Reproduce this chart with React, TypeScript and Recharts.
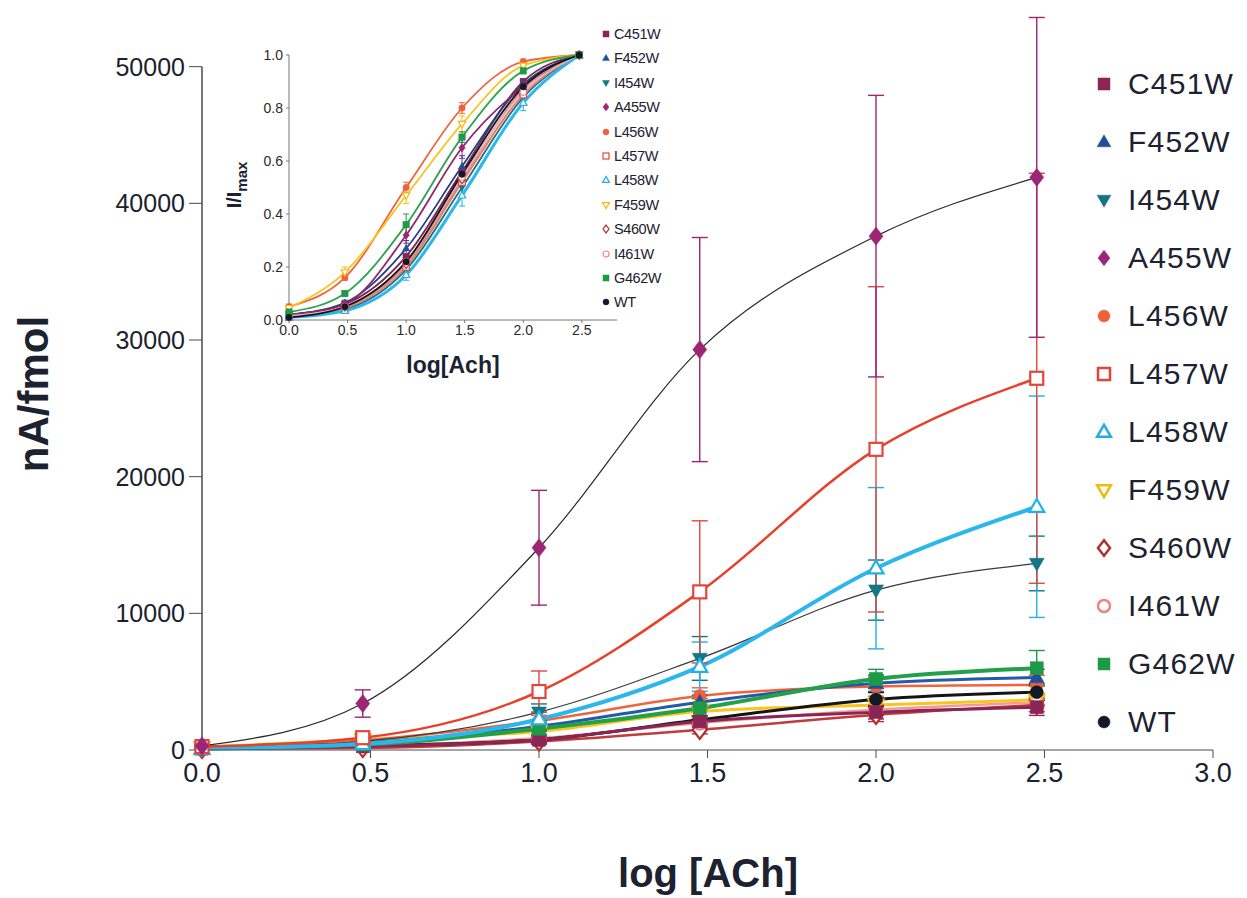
import React from "react";
import { LineChart, Line, XAxis, YAxis, ErrorBar, ReferenceLine, Label } from "recharts";

// log [ACh] (1, 3, 10, 30, 100, 300 uM)
const LOG_ACH = [0, 0.477, 1, 1.477, 2, 2.477];
const MAIN_X_TICKS = [0, 0.5, 1, 1.5, 2, 2.5, 3];
const MAIN_Y_TICKS = [0, 10000, 20000, 30000, 40000, 50000];
const INSET_X_TICKS = [0, 0.5, 1, 1.5, 2, 2.5];
const INSET_Y_TICKS = [0, 0.2, 0.4, 0.6, 0.8, 1.0];

// main panel, nA/fmol
const C451W_NA = [100, 270, 750, 2090, 2770, 3130];
const F452W_NA = [150, 510, 1730, 3500, 4880, 5300];
const I454W_NA = [120, 630, 2770, 6700, 11700, 13650];
const A455W_NA = [300, 3400, 14800, 29300, 37600, 41900];
const L456W_NA = [200, 700, 2140, 3950, 4640, 4760];
const L457W_NA = [250, 900, 4280, 11570, 22000, 27200];
const L458W_NA = [100, 450, 2250, 6100, 13300, 17800];
const F459W_NA = [200, 750, 1360, 2820, 3300, 3670];
const S460W_NA = [80, 150, 630, 1480, 2580, 3300];
const I461W_NA = [100, 300, 870, 1970, 2940, 3500];
const G462W_NA = [150, 400, 1560, 3060, 5200, 5980];
const WT_NA = [100, 300, 750, 2210, 3700, 4230];

// SEM, main panel
const C451W_SE = [50, 150, 300, 400, 500, 600];
const F452W_SE = [50, 150, 300, 500, 600, 600];
const I454W_SE = [50, 200, 600, 1600, 2200, 2000];
const A455W_SE = [150, 1000, 4200, 8200, 10300, 11700];
const L456W_SE = [50, 150, 400, 600, 700, 700];
const L457W_SE = [100, 300, 1500, 5200, 11900, 15000];
const L458W_SE = [50, 200, 500, 1800, 5900, 8100];
const F459W_SE = [50, 150, 300, 400, 500, 500];
const S460W_SE = [30, 100, 200, 300, 500, 500];
const I461W_SE = [50, 100, 200, 300, 400, 400];
const G462W_SE = [50, 150, 400, 700, 700, 1300];
const WT_SE = [50, 100, 200, 300, 500, 600];

// inset, I/Imax
const C451W_N = [0.02, 0.06, 0.24, 0.56, 0.9, 1.0];
const F452W_N = [0.02, 0.065, 0.27, 0.58, 0.89, 1.0];
const I454W_N = [0.01, 0.04, 0.19, 0.5, 0.84, 1.0];
const A455W_N = [0.02, 0.06, 0.32, 0.65, 0.88, 1.0];
const L456W_N = [0.05, 0.16, 0.5, 0.8, 0.975, 1.0];
const L457W_N = [0.01, 0.045, 0.2, 0.52, 0.85, 1.0];
const L458W_N = [0.01, 0.035, 0.17, 0.47, 0.82, 1.0];
const F459W_N = [0.045, 0.18, 0.47, 0.74, 0.96, 1.0];
const S460W_N = [0.015, 0.05, 0.21, 0.53, 0.87, 1.0];
const I461W_N = [0.015, 0.05, 0.22, 0.54, 0.86, 1.0];
const G462W_N = [0.03, 0.1, 0.36, 0.69, 0.94, 1.0];
const WT_N = [0.01, 0.05, 0.22, 0.55, 0.88, 1.0];

const L456W_NE = [0.01, 0.01, 0.02, 0.02, 0.01, 0];
const F459W_NE = [0.01, 0.02, 0.03, 0.03, 0.01, 0];
const G462W_NE = [0.01, 0.01, 0.04, 0.02, 0.01, 0];
const A455W_NE = [0, 0.01, 0.03, 0.04, 0.02, 0];
const F452W_NE = [0, 0.01, 0.03, 0.04, 0.02, 0];
const L458W_NE = [0, 0.01, 0.02, 0.04, 0.03, 0];
const I454W_NE = [0, 0.01, 0.02, 0.03, 0.03, 0];

type Shape = "square" | "triangle" | "triangleDown" | "diamond" | "circle";

interface Series {
  key: string;
  shape: Shape;
  open: boolean;
  color: string;
  line: string;
  lineWidth: number;
  insetLine: string;
  na: number[];
  se: number[];
  norm: number[];
  normErr?: number[];
}

const SERIES: Series[] = [
  { key: "C451W", shape: "square", open: false, color: "#8c2556", line: "#8c2556", lineWidth: 3, insetLine: "#7a2350", na: C451W_NA, se: C451W_SE, norm: C451W_N },
  { key: "F452W", shape: "triangle", open: false, color: "#21509a", line: "#2659a8", lineWidth: 3, insetLine: "#223f86", na: F452W_NA, se: F452W_SE, norm: F452W_N, normErr: F452W_NE },
  { key: "I454W", shape: "triangleDown", open: false, color: "#127684", line: "#3a3a3a", lineWidth: 1.2, insetLine: "#1f6f80", na: I454W_NA, se: I454W_SE, norm: I454W_N, normErr: I454W_NE },
  { key: "A455W", shape: "diamond", open: false, color: "#9c2575", line: "#2a2a2a", lineWidth: 1.2, insetLine: "#8e2a6e", na: A455W_NA, se: A455W_SE, norm: A455W_N, normErr: A455W_NE },
  { key: "L456W", shape: "circle", open: false, color: "#f0603c", line: "#f0643c", lineWidth: 2.5, insetLine: "#f0643c", na: L456W_NA, se: L456W_SE, norm: L456W_N, normErr: L456W_NE },
  { key: "L457W", shape: "square", open: true, color: "#e2463a", line: "#e8402a", lineWidth: 2.5, insetLine: "#e77a66", na: L457W_NA, se: L457W_SE, norm: L457W_N },
  { key: "L458W", shape: "triangle", open: true, color: "#22b0e6", line: "#2bb7ec", lineWidth: 4, insetLine: "#2bb7ec", na: L458W_NA, se: L458W_SE, norm: L458W_N, normErr: L458W_NE },
  { key: "F459W", shape: "triangleDown", open: true, color: "#f6b80e", line: "#f7c51c", lineWidth: 3, insetLine: "#f7c51c", na: F459W_NA, se: F459W_SE, norm: F459W_N, normErr: F459W_NE },
  { key: "S460W", shape: "diamond", open: true, color: "#b2302f", line: "#c03a3e", lineWidth: 2.5, insetLine: "#d88a90", na: S460W_NA, se: S460W_SE, norm: S460W_N },
  { key: "I461W", shape: "circle", open: true, color: "#ef8580", line: "#f29a98", lineWidth: 2.5, insetLine: "#e9b2bc", na: I461W_NA, se: I461W_SE, norm: I461W_N },
  { key: "G462W", shape: "square", open: false, color: "#1d9a48", line: "#22a04a", lineWidth: 4, insetLine: "#2ea44f", na: G462W_NA, se: G462W_SE, norm: G462W_N, normErr: G462W_NE },
  { key: "WT", shape: "circle", open: false, color: "#111827", line: "#141414", lineWidth: 3, insetLine: "#141414", na: WT_NA, se: WT_SE, norm: WT_N },
];

// drawing order on the main panel (back to front)
const MAIN_ORDER = ["S460W", "I461W", "F459W", "L456W", "WT", "C451W", "F452W", "G462W", "I454W", "L458W", "L457W", "A455W"];

const mainRows = LOG_ACH.map((x, i) => {
  const row: Record<string, number> = { x };
  SERIES.forEach((s) => {
    row[s.key] = s.na[i];
    row[s.key + "_se"] = s.se[i];
  });
  return row;
});

const insetRows = LOG_ACH.map((x, i) => {
  const row: Record<string, number> = { x };
  SERIES.forEach((s) => {
    row[s.key] = s.norm[i];
    if (s.normErr) row[s.key + "_se"] = s.normErr[i];
  });
  return row;
});

const FONT = '"Liberation Sans", Arial, Helvetica, sans-serif';

function Marker({ cx, cy, shape, r, color, open, sw }: { cx: number; cy: number; shape: Shape; r: number; color: string; open: boolean; sw: number }) {
  const fill = open ? "#ffffff" : color;
  const common = { fill, stroke: color, strokeWidth: open ? sw : 0.5 };
  if (shape === "square") return <rect x={cx - r} y={cy - r} width={2 * r} height={2 * r} {...common} />;
  if (shape === "circle") return <circle cx={cx} cy={cy} r={r} {...common} />;
  if (shape === "triangle")
    return <polygon points={`${cx},${cy - r * 1.2} ${cx + r * 1.15},${cy + r * 0.8} ${cx - r * 1.15},${cy + r * 0.8}`} {...common} />;
  if (shape === "triangleDown")
    return <polygon points={`${cx},${cy + r * 1.2} ${cx + r * 1.15},${cy - r * 0.8} ${cx - r * 1.15},${cy - r * 0.8}`} {...common} />;
  return <polygon points={`${cx},${cy - r * 1.3} ${cx + r},${cy} ${cx},${cy + r * 1.3} ${cx - r},${cy}`} {...common} />;
}

function Legend({ left, top, step, size, gap, fontSize, letterSpacing }: { left: number; top: number; step: number; size: number; gap: number; fontSize: number; letterSpacing: number }) {
  return (
    <div style={{ position: "absolute", left, top }}>
      {SERIES.map((s, i) => (
        <div key={s.key} style={{ position: "absolute", left: 0, top: i * step - step / 2, height: step, display: "flex", alignItems: "center", whiteSpace: "nowrap" }}>
          <svg width={size * 2 + 4} height={size * 3} style={{ marginRight: gap }}>
            <Marker cx={size + 2} cy={size * 1.5} shape={s.shape} r={size * 0.75} color={s.color} open={s.open} sw={size > 6 ? 2.5 : 1.2} />
          </svg>
          <span style={{ fontFamily: FONT, fontSize, letterSpacing, color: "#1c2230" }}>{s.key}</span>
        </div>
      ))}
    </div>
  );
}

export default function App() {
  const ordered = MAIN_ORDER.map((k) => SERIES.find((s) => s.key === k)!);
  return (
    <div style={{ position: "absolute", left: 0, top: 0, width: 1247, height: 898, background: "#ffffff", overflow: "hidden" }}>
      <LineChart width={1247} height={898} data={mainRows} margin={{ top: 12, right: 34, bottom: 0, left: 0 }}>
        <XAxis
          dataKey="x"
          type="number"
          domain={[0, 3]}
          ticks={MAIN_X_TICKS}
          tickFormatter={(v: number) => v.toFixed(1)}
          height={148}
          stroke="#4a4a4a"
          tickSize={8}
          tickMargin={5}
          tick={{ fontSize: 27, fill: "#1c2230", fontFamily: FONT }}
        >
          <Label
            content={() => (
              <text x={708} y={887} textAnchor="middle" fontFamily={FONT} fontWeight="bold" fontSize={40} fill="#1c2230">
                log [ACh]
              </text>
            )}
          />
        </XAxis>
        <YAxis
          type="number"
          domain={[0, 54000]}
          ticks={MAIN_Y_TICKS}
          width={202}
          axisLine={false}
          stroke="#4a4a4a"
          tickSize={13}
          tickMargin={4}
          tick={{ fontSize: 25, fill: "#1c2230", fontFamily: FONT }}
        >
          <Label
            content={() => (
              <text x={48} y={394} transform="rotate(-90 48 394)" textAnchor="middle" fontFamily={FONT} fontWeight="bold" fontSize={42} fill="#1c2230">
                nA/fmol
              </text>
            )}
          />
        </YAxis>
        <ReferenceLine segment={[{ x: 0, y: 0 }, { x: 0, y: 50000 }]} stroke="#4a4a4a" strokeWidth={1.5} />
        {ordered.map((s) => (
          <Line
            key={s.key}
            dataKey={s.key}
            type="monotone"
            stroke={s.line}
            strokeWidth={s.lineWidth}
            isAnimationActive={false}
            activeDot={false}
            dot={(p: any) => (
              <Marker key={`${s.key}-${p.index}`} cx={p.cx} cy={p.cy} shape={s.shape} r={s.shape === "diamond" ? 7 : 6.5} color={s.color} open={s.open} sw={2.2} />
            )}
          >
            <ErrorBar dataKey={s.key + "_se"} direction="y" width={8} stroke={s.color} strokeWidth={1.4} />
          </Line>
        ))}
      </LineChart>

      <div style={{ position: "absolute", left: 220, top: 20 }}>
        <LineChart width={400} height={370} data={insetRows} margin={{ top: 35, right: 3, bottom: 0, left: 0 }}>
          <XAxis
            dataKey="x"
            type="number"
            domain={[0, 2.8]}
            ticks={INSET_X_TICKS}
            tickFormatter={(v: number) => v.toFixed(1)}
            height={70}
            stroke="#777777"
            tickSize={3}
            tickMargin={2}
            tick={{ fontSize: 14, fill: "#2a2a2a", fontFamily: FONT }}
          >
            <Label
              content={() => (
                <text x={233} y={353} textAnchor="middle" fontFamily={FONT} fontWeight="bold" fontSize={23} fill="#1c2230">
                  log[Ach]
                </text>
              )}
            />
          </XAxis>
          <YAxis
            type="number"
            domain={[0, 1]}
            ticks={INSET_Y_TICKS}
            tickFormatter={(v: number) => v.toFixed(1)}
            width={69}
            stroke="#777777"
            tickSize={3}
            tickMargin={3}
            tick={{ fontSize: 14, fill: "#2a2a2a", fontFamily: FONT }}
          >
            <Label
              content={() => (
                <text x={21} y={165} transform="rotate(-90 21 165)" textAnchor="middle" fontFamily={FONT} fontWeight="bold" fontSize={20} fill="#1c2230">
                  I/I<tspan fontSize={15} dy={6}>max</tspan>
                </text>
              )}
            />
          </YAxis>
          {SERIES.map((s) => (
            <Line
              key={s.key}
              dataKey={s.key}
              type="monotone"
              stroke={s.insetLine}
              strokeWidth={s.key === "L458W" ? 3 : 1.8}
              isAnimationActive={false}
              activeDot={false}
              dot={(p: any) => (
                <Marker key={`${s.key}-${p.index}`} cx={p.cx} cy={p.cy} shape={s.shape} r={3.2} color={s.color} open={s.open} sw={1.2} />
              )}
            >
              {s.normErr ? <ErrorBar dataKey={s.key + "_se"} direction="y" width={3} stroke={s.color} strokeWidth={1} /> : null}
            </Line>
          ))}
        </LineChart>
      </div>

      <Legend left={600} top={34} step={24.4} size={4} gap={2} fontSize={14.5} letterSpacing={-0.4} />
      <Legend left={1094} top={84} step={58} size={8} gap={14} fontSize={30} letterSpacing={1.2} />
    </div>
  );
}
